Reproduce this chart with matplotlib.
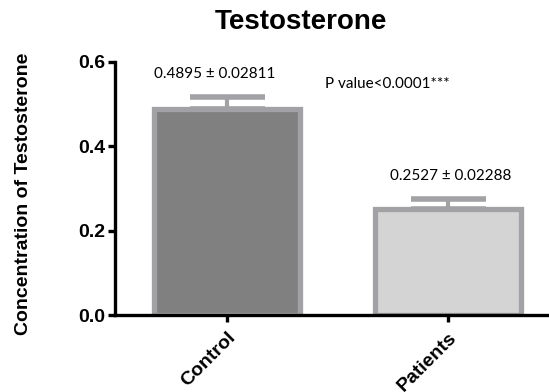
import matplotlib.pyplot as plt
import numpy as np

groups = ["Control", "Patients"]
means = [0.4895, 0.2527]
sems = [0.02811, 0.02288]
fills = ["#808080", "#d4d4d4"]
edge = "#a2a2a6"
label_shift = [-0.055, 0.01]

plt.rcParams["font.family"] = "Liberation Sans"

fig = plt.figure(figsize=(5.49, 3.92), dpi=100)
ax = fig.add_axes([0.2095, 0.196, 0.7905, 0.646])

x = np.arange(len(groups))
ax.bar(x, means, width=0.66, color=fills, edgecolor=edge, linewidth=3.8, zorder=2)
# upper error bars only
ax.errorbar(x, means, yerr=[np.zeros(2), sems], fmt="none", ecolor=edge,
            elinewidth=3, capsize=27, capthick=4, zorder=1)

for xi, m, s, dx in zip(x, means, sems, label_shift):
    ax.text(xi + dx, m + s + 0.053, f"{m} ± {s}", ha="center", va="center",
            fontsize=11, family="Lato")
ax.text(0.443, 0.548, "P value<0.0001***", ha="left", va="center",
        fontsize=11, family="Lato")

ax.set_xlim(-0.507, 1.457)
ax.set_ylim(0, 0.6)
ax.set_yticks([0.0, 0.2, 0.4, 0.6])
ax.set_yticklabels(["0.0", "0.2", "0.4", "0.6"], fontweight="bold", fontsize=14)
ax.set_xticks(x)
ax.set_xticklabels(groups, rotation=45, ha="right", rotation_mode="anchor",
                   fontweight="bold", fontsize=14)
for s in ["top", "right"]:
    ax.spines[s].set_visible(False)
for s in ["left", "bottom"]:
    ax.spines[s].set_linewidth(2.4)
ax.tick_params(width=2.4, length=5, pad=2)
ax.tick_params(axis="x", pad=5)

ax.set_ylabel("Concentration of Testosterone", fontweight="bold", fontsize=14)
ax.yaxis.set_label_coords(-0.192, 0.478)
fig.text(0.548, 0.944, "Testosterone", ha="center", va="center",
         fontweight="bold", fontsize=20)

fig.savefig("out.png", dpi=100)
